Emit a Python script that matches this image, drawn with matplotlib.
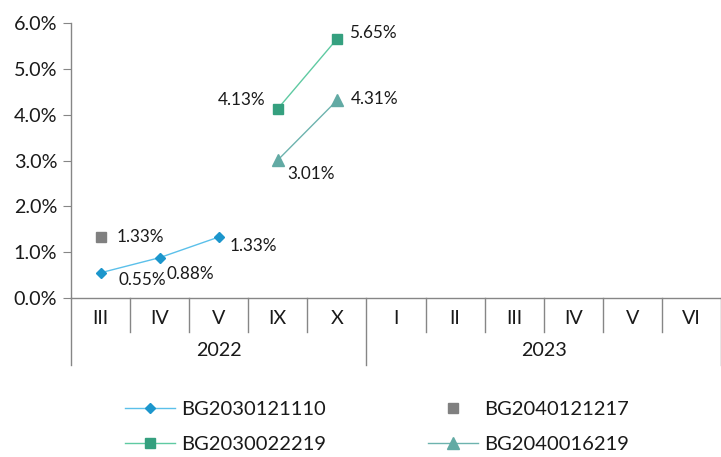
import matplotlib.pyplot as plt
import matplotlib.transforms as mtransforms
import numpy as np

plt.rcParams['font.family'] = ['Lato', 'DejaVu Sans']

# Categories (months) and their years
months = ['III', 'IV', 'V', 'IX', 'X', 'I', 'II', 'III', 'IV', 'V', 'VI']
years = ['2022', '2023']
months_per_year = [5, 6]

# Series values in %, None where there is no value
bg2030121110 = [0.55, 0.88, 1.33, None, None, None, None, None, None, None, None]
bg2040121217 = [1.33, None, None, None, None, None, None, None, None, None, None]
bg2030022219 = [None, None, None, 4.13, 5.65, None, None, None, None, None, None]
bg2040016219 = [None, None, None, 3.01, 4.31, None, None, None, None, None, None]

def to_arr(vals):
    return np.array([np.nan if v is None else v for v in vals], dtype=float)

x = np.arange(len(months))
fig = plt.figure(figsize=(7.21, 4.57), dpi=100)
ax = fig.add_axes([71 / 721, 1 - 298 / 457, 650 / 721, 275 / 457])

axis_col = '#868686'
txt_col = '#1a1a1a'
fs = 14.2
lab_fs = 12.3
leg_fs = 14.5

s1, = ax.plot(x, to_arr(bg2030121110), color='#5bc0ea', lw=1, marker='D', ms=5.5,
              mfc='#1c96cc', mec='#1c96cc', label='BG2030121110')
s2, = ax.plot(x, to_arr(bg2040121217), color='#808080', lw=0, marker='s', ms=7.8,
              mfc='#808080', mec='#808080', label='BG2040121217')
s3, = ax.plot(x, to_arr(bg2030022219), color='#5fcaa2', lw=1, marker='s', ms=7.6,
              mfc='#35a07f', mec='#35a07f', label='BG2030022219')
s4, = ax.plot(x, to_arr(bg2040016219), color='#6db3ae', lw=1, marker='^', ms=8,
              mfc='#62aaa4', mec='#62aaa4', label='BG2040016219')

# Data label offsets in points
label_spec = [
    (bg2030121110, [(13, -5), (5, -11.5), (8, -6.5)]),
    (bg2040121217, [(11.5, 0)]),
    (bg2030022219, [(-8.6, 6.5), (8.6, 4.3)]),
    (bg2040016219, [(6.5, -10), (10, 1)]),
]
for vals, offs in label_spec:
    pts = [(i, v) for i, v in enumerate(vals) if v is not None]
    for (i, v), off in zip(pts, offs):
        ha = 'right' if off[0] < 0 else 'left'
        ax.annotate(f'{v:.2f}%', (i, v), xytext=off, textcoords='offset points',
                    ha=ha, va='center', fontsize=lab_fs, color=txt_col)

ax.set_xlim(-0.5, len(months) - 0.5)
ax.set_ylim(0, 6)
ax.set_yticks(np.arange(0, 6.01, 1))
ax.set_yticklabels([f'{v:.1f}%' for v in np.arange(0, 6.01, 1)])
ax.tick_params(axis='y', length=6, color=axis_col, labelsize=fs, labelcolor=txt_col, pad=4)
ax.set_xticks([])
for side in ['top', 'right']:
    ax.spines[side].set_visible(False)
for side in ['left', 'bottom']:
    ax.spines[side].set_color(axis_col)
    ax.spines[side].set_linewidth(1)

# Two-level category axis below the plot
trans = mtransforms.blended_transform_factory(ax.transData, ax.transAxes)
px = 1 / 275  # one pixel in axes fraction (height)
for i, m in enumerate(months):
    ax.text(i, -21 * px, m, transform=trans, ha='center', va='center',
            fontsize=fs, color=txt_col)
bounds = np.arange(len(months) + 1) - 0.5
year_edges = np.cumsum([0] + months_per_year) - 0.5
for b in bounds:
    depth = 67 if b in year_edges else 34
    ax.plot([b, b], [0, -depth * px], transform=trans, color=axis_col, lw=1, clip_on=False)
for k, yr in enumerate(years):
    c = (year_edges[k] + year_edges[k + 1]) / 2
    ax.text(c, -53 * px, yr, transform=trans, ha='center', va='center',
            fontsize=fs, color=txt_col)

# Legend in two columns, each its own legend
leg_kw = dict(frameon=False, fontsize=leg_fs, loc='upper left', borderaxespad=0,
              borderpad=0, handlelength=2.5, handletextpad=0.3, labelspacing=0.9)
leg1 = fig.legend(handles=[s1, s3], bbox_to_anchor=(125 / 721, 1 - 401 / 457), **leg_kw)
leg2 = fig.legend(handles=[s2, s4], bbox_to_anchor=(428 / 721, 1 - 401 / 457), **leg_kw)
for leg in (leg1, leg2):
    for t in leg.get_texts():
        t.set_color(txt_col)

fig.savefig('out.png', dpi=100)
